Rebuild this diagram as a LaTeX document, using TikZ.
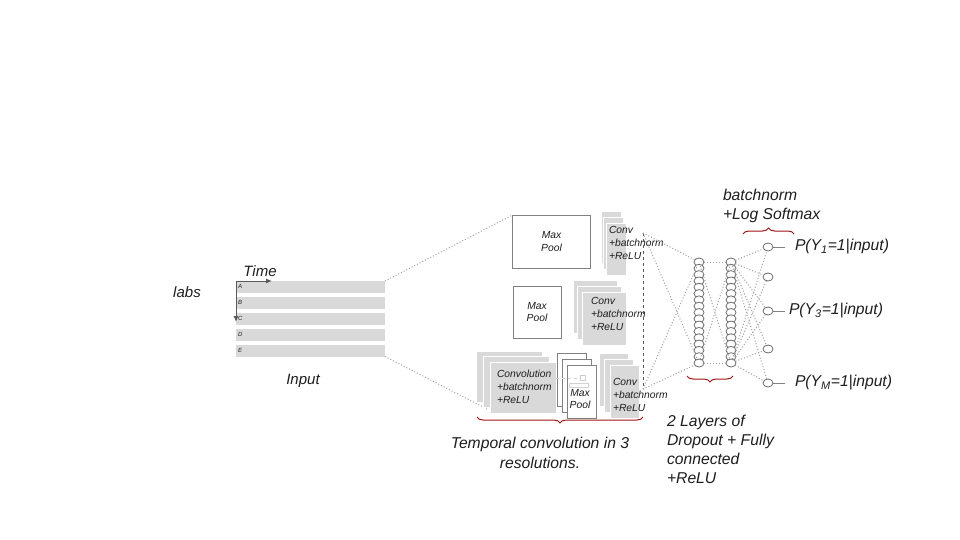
\documentclass[tikz,border=0pt]{standalone}
\usepackage{fontspec}
\setmainfont{Liberation Sans}
\definecolor{boxgray}{RGB}{217,217,217}
\definecolor{edgegray}{RGB}{128,128,128}
\definecolor{unitgray}{RGB}{110,110,110}
\definecolor{linkgray}{RGB}{160,160,160}
\definecolor{arrowgray}{RGB}{90,90,90}
\definecolor{textgray}{RGB}{30,30,30}
\definecolor{bracered}{RGB}{160,20,20}
\usetikzlibrary{shapes.geometric,arrows.meta,positioning,calc,
                decorations.pathreplacing}

\begin{document}
\begin{tikzpicture}[x=1pt, y=-1pt,
          every node/.style={inner sep=0pt, outer sep=0pt, text=textgray},
          biglbl/.style={font=\fontsize{15.7}{19}\selectfont\itshape, align=left},
          midlbl/.style={font=\fontsize{15}{17}\selectfont\itshape},
          boxlbl/.style={font=\fontsize{10.3}{12.8}\selectfont\itshape, align=left, anchor=west},
          rowbox/.style={fill=boxgray, minimum width=149, minimum height=11.5, anchor=north west},
          convbox/.style={fill=boxgray, draw=white, line width=1pt},
          poolbox/.style={fill=white, draw=edgegray, line width=0.9pt},
          unit/.style={ellipse, draw=unitgray, fill=white, line width=0.8pt,
                       minimum width=10, minimum height=8},
          link/.style={dotted, draw=linkgray, line width=1pt},
          axisarrow/.style={-{Latex[length=6pt,width=5pt]}, draw=arrowgray, line width=1pt},
          brace/.style={decorate, decoration={brace, amplitude=6pt},
                        draw=bracered, line width=1pt}]
  \fill[white] (0,0) rectangle (960,540);
  \useasboundingbox (0,0) rectangle (960,540);

  % Input matrix
  \foreach \i/\lbl in {1/A,2/B,3/C,4/D,5/E}{
    \node[rowbox] (r\i) at (236, 281+16*\i-16) {};
    \node[font=\fontsize{6}{7}\selectfont\itshape, anchor=west]
      at ($(r\i.west)+(2,0)$) {\lbl};
  }
  \coordinate (timeend) at (272,281);
  \coordinate (labsend) at (236,322);
  \draw[axisarrow] (r1.north west) -- (timeend);
  \draw[axisarrow] (r1.north west) -- (labsend);
  \node[midlbl] (timelbl) at (260,271) {Time};
  \node[midlbl] (labslbl) at (187,292) {labs};
  \node[midlbl] (inputlbl) at (303,381) {Input};

  % Temporal convolution, 3 resolutions
  \node[poolbox, minimum width=78, minimum height=53] (pool1) at (551.5,241.5) {};
  \node[poolbox, minimum width=48, minimum height=52] (pool2) at (537,312) {};
  \draw[link] (r1.north east) -- (pool1.north west);
  \draw[link] (r5.south east) -- (487,409);
  \foreach \k in {0,1,2}
    \node[convbox, minimum width=20, minimum height=52] (ca\k) at (611+2.5*\k, 237+6*\k) {};
  \foreach \k in {0,1,2}
    \node[convbox, minimum width=44, minimum height=53] (cb\k) at (595+4.5*\k, 306.5+6*\k) {};
  \foreach \k in {0,1,2}
    \node[convbox, minimum width=66, minimum height=51] (cc\k) at (509+7*\k, 376.5+5.5*\k) {};
  \foreach \k in {0,1,2}
    \node[poolbox, minimum width=29, minimum height=53] (pc\k) at (571.5+5*\k, 379.5+6*\k) {};
  \foreach \k in {0,1,2}
    \node[convbox, minimum width=29, minimum height=53] (cd\k) at (613.5+5.5*\k, 379.5+6*\k) {};

  \node[boxlbl, align=center, anchor=center] at (pool1) {Max\\Pool};
  \node[boxlbl, align=center, anchor=center] at (pool2) {Max\\Pool};
  \node[boxlbl, align=center, anchor=center] at (580,399) {Max\\Pool};
  \node[boxlbl] at (609,243) {Conv\\+batchnorm\\+ReLU};
  \node[boxlbl] at (591,314) {Conv\\+batchnorm\\+ReLU};
  \node[boxlbl] at (497,387) {Convolution\\+batchnorm\\+ReLU};
  \node[boxlbl] at (613,395) {Conv\\+batchnorm\\+ReLU};
  \draw[dashed, gray!35, line width=0.6pt] (550,378) -- (580,378);
  \draw[gray!40, line width=0.6pt] (580,375.5) rectangle (585,380.5);
  \draw[gray!35, fill=white, line width=0.6pt] (569,383) rectangle (588,387);

  \coordinate (topjoin) at (643,233);
  \coordinate (botjoin) at (643,389);
  \draw[dashed, draw=arrowgray, line width=0.9pt] (topjoin) -- (botjoin);

  % Fully connected layers and outputs
  \foreach \i in {1,...,17}{
    \node[unit] (a\i) at (699, 262+6.3125*\i-6.3125) {};
    \node[unit] (b\i) at (731, 262+6.3125*\i-6.3125) {};
  }
  \foreach \i/\y in {1/247,2/277,3/311,4/349,5/383}
    \node[unit] (o\i) at (768,\y) {};

  \foreach \s in {topjoin,botjoin}
    \foreach \t in {a1,a17}
      \draw[link] (\s) -- (\t);
  \foreach \s/\t in {a1/b1,a17/b17,a1/b17,a17/b1}
    \draw[link] (\s) -- (\t);
  \foreach \i in {1,...,5}{
    \draw[link] (b1) -- (o\i);
    \draw[link] (b17) -- (o\i);
  }

  \foreach \i/\sub/\gap in {1/1/10,3/3/4,5/M/10}{
    \node[biglbl, anchor=west] (p\i) at ($(o\i.east)+(12+\gap,0)$)
      {P(Y\textsubscript{\sub}=1|input)};
    \draw[edgegray, line width=0.9pt, shorten >=\gap] (o\i) -- (p\i);
  }

  % Braces and captions
  \draw[brace] (643,417) -- (477,417);
  \draw[brace] (733,376) -- (687,376);
  \draw[brace] (743,234) -- (794,234);
  \node[biglbl, align=center, font=\fontsize{15.7}{20}\selectfont\itshape] (convcap) at (540,453)
    {Temporal convolution in 3\\resolutions.};
  \node[biglbl, anchor=west] (fccap) at (667,449.5)
    {2 Layers of\\Dropout + Fully\\connected\\+ReLU};
  \node[biglbl, anchor=west] (outcap) at (723,205.5)
    {batchnorm\\+Log Softmax};
\end{tikzpicture}
\end{document}
